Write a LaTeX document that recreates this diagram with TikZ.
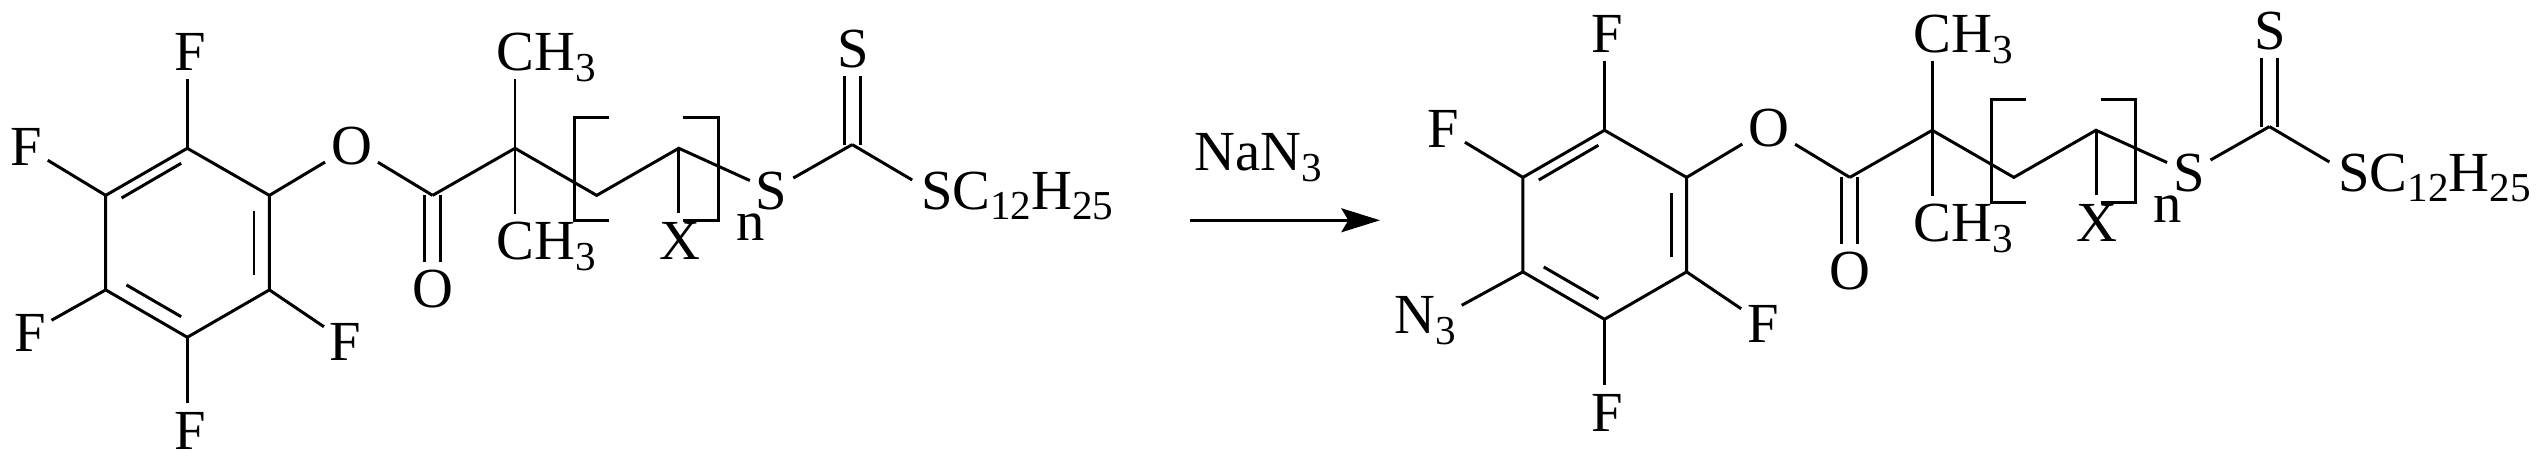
\documentclass[tikz,border=0pt]{standalone}
\usepackage{fontspec}
\setmainfont{Liberation Serif}
\usetikzlibrary{arrows.meta}
\newcommand{\chemsub}[1]{\raisebox{-3.1pt}{\fontsize{11.7}{12}\selectfont #1}}
\tikzset{bond/.style = {line width=0.85pt},
         dbond/.style = {line width=0.85pt, double, double distance=3.7pt},
         atom/.style = {anchor=base, inner xsep=1.5pt, inner ysep=2.2pt,
                        text height=10.65pt, text depth=0pt,
                        font=\fontsize{16.1}{17}\selectfont}}
\newcommand{\estermol}{%
    \coordinate (c1) at (187.3, 148.3);
    \coordinate (c2) at (269.4, 195.4);
    \coordinate (c3) at (269.4, 289.9);
    \coordinate (c4) at (187.3, 337.3);
    \coordinate (c5) at (105.7, 289.9);
    \coordinate (c6) at (105.7, 195.4);
    \coordinate (coc) at (432.6, 195.4);
    \coordinate (qc) at (515, 148.3);
    \coordinate (ch2) at (596.7, 195.4);
    \coordinate (chx) at (678.8, 148.3);
    \coordinate (csc) at (852.2, 144.6);
    \coordinate (sctip) at (912.2, 180);
    \node [atom] (ftop) at (190, 70.6) {F};
    \node [atom] (fleft) at (26, 165.8) {F};
    \node [atom] (fright) at (345.7, 360.2) {F};
    \node [atom] (fbottom) at (189.8, 449.2) {F};
    \node [atom] (oester) at (351.5, 165) {O};
    \node [atom] (ocarb) at (433, 307.5) {O};
    \node [atom] (meup) at (546, 70.6) {CH\chemsub{3}};
    \node [atom] (medown) at (546, 259.7) {CH\chemsub{3}};
    \node [atom] (xsub) at (680, 259.4) {X};
    \node [atom] (nrep) at (750.6, 240.1) {n};
    \node [atom] (slink) at (771.6, 209.1) {S};
    \node [atom] (sthio) at (852.9, 67.8) {S};
    \node [atom] (sdodecyl) at (1017.3, 209.1) {SC\chemsub{12}H\chemsub{25}};
    \draw [dbond] (coc) -- (coc |- ocarb.north);
    \draw [dbond] (csc) -- (csc |- sthio.south);
    \draw [bond] (c1) -- (c2) -- (c3) -- (c4) -- (c5) -- (c6) -- cycle;
    \coordinate (ina1) at (121.6, 198);
    \coordinate (ina2) at (181.2, 163.3);
    \coordinate (inb1) at (254, 211);
    \coordinate (inb2) at (254, 275);
    \coordinate (inc1) at (126.5, 285);
    \coordinate (inc2) at (181.2, 316.7);
    \draw [bond] (ina1) -- (ina2);
    \draw [bond] (inb1) -- (inb2);
    \draw [bond] (inc1) -- (inc2);
    \draw [bond] (c1) -- (c1 |- ftop.south);
    \draw [bond] (c6) -- (fleft);
    \draw [bond] (c3) -- (fright);
    \draw [bond] (c4) -- (c4 |- fbottom.north);
    \draw [bond] (c2) -- (oester);
    \draw [bond] (oester) -- (coc);
    \draw [bond] (coc) -- (qc) -- (ch2) -- (chx) -- (slink);
    \draw [bond] (qc) -- (qc |- meup.south);
    \draw [bond] (qc) -- (qc |- medown.north);
    \draw [bond] (chx) -- (chx |- xsub.north);
    \draw [bond] (slink) -- (csc);
    \draw [bond] (csc) -- (sctip);
    \coordinate (bla) at (608.6, 117.4);
    \coordinate (blb) at (574.3, 117.4);
    \coordinate (blc) at (574.3, 220.3);
    \coordinate (bld) at (608.6, 220.3);
    \coordinate (bra) at (683.3, 117.4);
    \coordinate (brb) at (718.4, 117.4);
    \coordinate (brc) at (718.4, 220.3);
    \coordinate (brd) at (683.3, 220.3);
    \draw [bond] (bla) -- (blb) -- (blc) -- (bld);
    \draw [bond] (bra) -- (brb) -- (brc) -- (brd);
}
\begin{document}
\begin{tikzpicture}[x=0.01cm, y=-0.01cm]
    \useasboundingbox (0, 0) rectangle (2547, 468);
    \begin{scope}[name prefix=l-]
      \estermol
      \node [atom] (flow) at (29.8, 351.2) {F};
      \draw [bond] (c5) -- (flow);
    \end{scope}
    \node [atom] (reagent) at (1258, 170.7) {NaN\chemsub{3}};
    \coordinate (arrowtail) at (1189.8, 220.3);
    \coordinate (arrowtip) at (1380, 220.3);
    \draw [bond, -{Stealth[length=11pt, width=6.8pt, inset=2pt]}] (arrowtail) -- (arrowtip);
    \begin{scope}[shift={(1417.2, -18)}, name prefix=r-]
      \estermol
      \node [atom] (azide) at (7.8, 351.2) {N\chemsub{3}};
      \draw [bond] (c5) -- (azide.14);
    \end{scope}
\end{tikzpicture}
\end{document}
